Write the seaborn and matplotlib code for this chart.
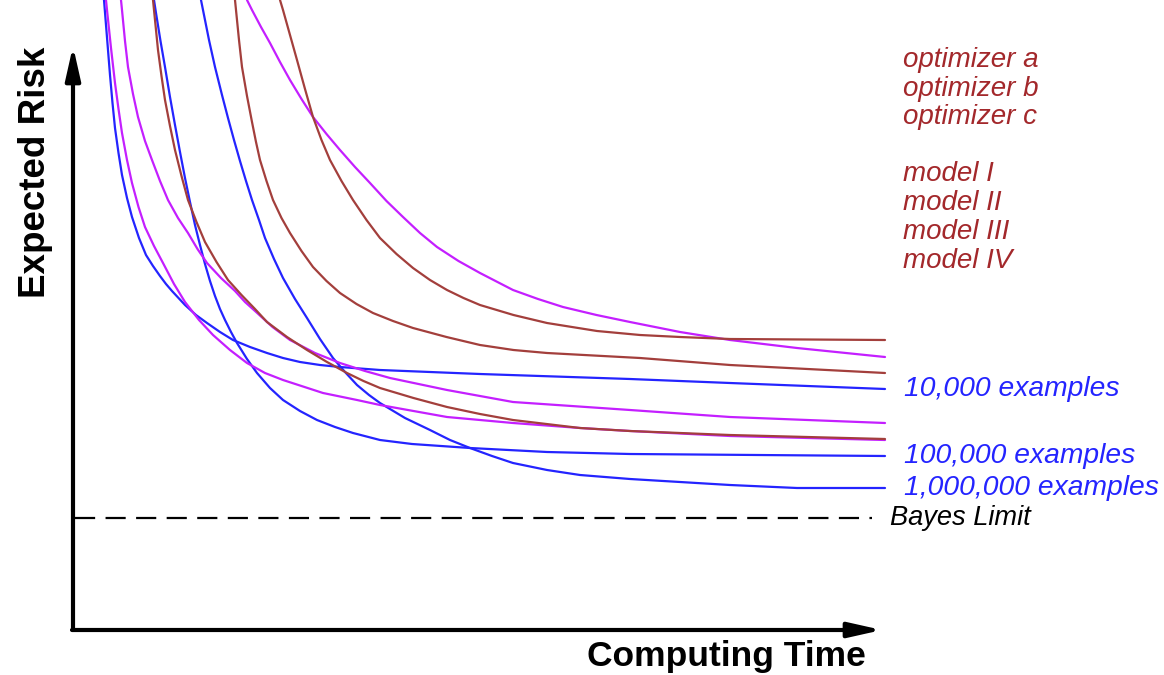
import pandas as pd
import matplotlib.pyplot as plt
import seaborn as sns

# Curves. Time runs right from the origin of the axes,
# risk runs up from the time axis (both in the picture's own units).

# blue: training set size
ex10k_time = [32, 34, 38, 40.5, 43, 46.5, 50, 55, 60, 67, 74, 81, 88, 94, 100, 113, 124, 135, 148, 161,
              178, 195, 211, 228, 248, 268, 308, 408, 558, 658, 813]
ex10k_risk = [630, 605, 555, 527, 502, 477, 455, 432, 413, 392, 375, 364, 354, 346, 339, 325, 315, 307, 298, 290,
              283, 277, 272, 268, 265, 263, 260, 256, 251, 247, 241]

ex100k_time = [82, 84, 88.5, 93, 98, 103, 108, 113, 118, 123, 128, 133, 138, 143, 148, 153, 159, 165, 175, 185,
               198, 211, 228, 245, 263, 281, 308, 340, 398, 475, 558, 813]
ex100k_risk = [630, 617, 589, 563, 533, 505, 478, 452, 428, 405, 385, 366, 349, 334, 321, 310, 298, 287, 271, 257,
               242, 230, 219, 210, 203, 197, 190, 186, 182, 178, 176, 174]

ex1m_time = [129, 131, 137, 143, 150, 156, 162, 168, 174, 180, 187, 193, 202, 211, 223, 235, 248, 261, 273, 285,
             297, 308, 333, 358, 378, 398, 420, 441, 475, 508, 558, 658, 725, 813]
ex1m_risk = [630, 620, 590, 563, 535, 512, 490, 469, 449, 430, 410, 392, 371, 352, 331, 312, 291, 272, 258, 245,
             235, 227, 212, 200, 190, 182, 174, 167, 160, 155, 151, 145, 142, 142]

# magenta
opt1_time = [34, 35, 39, 43, 46.5, 50, 55, 60, 66.5, 73, 82, 91, 102, 113, 127, 141, 158, 175, 193, 211,
             251, 285, 308, 375, 441, 508, 558, 658, 813]
opt1_risk = [630, 620, 582, 547, 521, 497, 470, 447, 423, 403, 384, 367, 346, 328, 310, 295, 280, 267, 257, 250,
             237, 230, 225, 213, 207, 202, 199, 194, 190]

opt2_time = [49, 50, 53, 56, 61, 66, 73, 80, 88, 96, 106, 116, 125.5, 135, 149, 163, 173, 183, 200.5, 218,
             243, 268, 293, 318, 375, 441, 558, 658, 813]
opt2_risk = [630, 620, 589, 563, 536, 513, 489, 470, 449, 430, 412, 397, 381, 367, 352, 339, 328, 319, 303, 290,
             277, 267, 259, 252, 240, 228, 220, 213, 207]

opt3_time = [175, 180, 189, 198, 208, 218, 229.5, 241, 254.5, 268, 283, 298, 314.5, 331, 348, 365, 386.5, 408,
             441, 466, 491, 524.5, 558, 608, 658, 725, 813]
opt3_risk = [630, 620, 603, 587, 568, 550, 531, 513, 496, 480, 463, 447, 429, 413, 397, 383, 369, 357,
             340, 331, 323, 315, 308, 298, 290, 282, 273]

# brown
mod1_time = [81, 82, 86, 89.5, 93, 98, 103, 109.5, 116, 124.5, 133, 144.5, 156, 169.5, 183, 195, 215, 235, 255,
             275, 291.5, 308, 341.5, 375, 408, 441, 508, 558, 658, 813]
mod1_risk = [630, 620, 580, 554, 530, 504, 480, 454, 430, 408, 388, 368, 350, 335, 321, 308, 293, 280, 268,
             257, 249, 242, 232, 223, 216, 210, 202, 199, 195, 191]

mod2_time = [163, 164, 167, 170, 175, 180, 184, 188, 194.5, 201, 209.5, 218, 229.5, 241, 254.5, 268, 284.5, 301,
             321, 341, 374.5, 408, 441.5, 475, 568, 658, 813]
mod2_risk = [630, 620, 590, 563, 534, 508, 488, 470, 449, 430, 412, 397, 379, 363, 349, 337, 326, 317,
             309, 302, 293, 285, 280, 277, 272, 265, 257]

mod3_time = [208, 211, 225, 233, 241, 249.5, 258, 269.5, 281, 294.5, 308, 324.5, 341, 358, 375, 391.5, 408,
             441.5, 475, 525, 568, 608, 658, 813]
mod3_risk = [630, 620, 570, 541, 513, 490, 470, 449, 430, 410, 392, 376, 362, 350, 340, 332, 325,
             315, 307, 299, 295, 293, 291, 290]

bayes_time = [3, 800]
bayes_risk = [112, 112]

optimizer_labels = ["optimizer a", "optimizer b", "optimizer c"]
model_labels = ["model I", "model II", "model III", "model IV"]
example_labels = ["10,000 examples", "100,000 examples", "1,000,000 examples"]

blue = "#2424ff"
magenta = "#c41fff"
brown = "#a33f3c"
label_brown = "#a3282b"

curves = {
    "ex10k": (ex10k_time, ex10k_risk, blue),
    "ex100k": (ex100k_time, ex100k_risk, blue),
    "ex1m": (ex1m_time, ex1m_risk, blue),
    "opt1": (opt1_time, opt1_risk, magenta),
    "opt2": (opt2_time, opt2_risk, magenta),
    "opt3": (opt3_time, opt3_risk, magenta),
    "mod1": (mod1_time, mod1_risk, brown),
    "mod2": (mod2_time, mod2_risk, brown),
    "mod3": (mod3_time, mod3_risk, brown),
}

rows = []
for name, (t, r, _) in curves.items():
    for ti, ri in zip(t, r):
        rows.append({"curve": name, "time": ti, "risk": ri})
df = pd.DataFrame(rows)
palette = {name: c for name, (_, _, c) in curves.items()}

sns.set_style("white")
plt.rcParams["font.family"] = ["Liberation Sans", "DejaVu Sans"]
plt.rcParams["text.color"] = "black"
plt.rcParams["lines.scale_dashes"] = False

fig = plt.figure(figsize=(11.64, 6.75), dpi=100)
ax = fig.add_axes([0, 0, 1, 1])

sns.lineplot(data=df, x="time", y="risk", hue="curve", hue_order=list(curves.keys()),
             palette=palette, estimator=None, sort=False, legend=False, lw=1.6, ax=ax)

# Bayes limit
sns.lineplot(x=bayes_time, y=bayes_risk, color="black", lw=1.6, ax=ax,
             linestyle=(0, (14.5, 7.5)))

ax.set_xlim(-72, 1092)
ax.set_ylim(-45, 630)
ax.axis("off")

# axis arrows
arrow = dict(arrowstyle="-|>,head_length=20,head_width=4.5", lw=3, color="black",
             mutation_scale=1, shrinkA=0, shrinkB=0)
ax.annotate("", xy=(1, 584), xytext=(1, 0), arrowprops=arrow)
ax.annotate("", xy=(810, 0), xytext=(0, 0), arrowprops=arrow)

ax.text(794, -36, "Computing Time", fontsize=25.5, fontweight="bold",
        ha="right", va="baseline")
ax.text(-36, 458, "Expected Risk", fontsize=26.5, fontweight="bold",
        rotation=90, ha="center", va="center")

# labels on the right
for i, lab in enumerate(optimizer_labels):
    ax.text(831, 563 - i * 28.7, lab, fontsize=20, style="italic",
            color=label_brown, va="baseline")
for i, lab in enumerate(model_labels):
    ax.text(831, 449 - i * 29, lab, fontsize=20, style="italic",
            color=label_brown, va="baseline")

ends = [ex10k_risk[-1], ex100k_risk[-1], ex1m_risk[-1]]
for lab, r in zip(example_labels, ends):
    ax.text(832, r, lab, fontsize=20.3, style="italic", color=blue, va="center")

ax.text(818, bayes_risk[-1], "Bayes Limit", fontsize=19.6, style="italic",
        color="black", va="center")

plt.savefig("out.png", dpi=100)
